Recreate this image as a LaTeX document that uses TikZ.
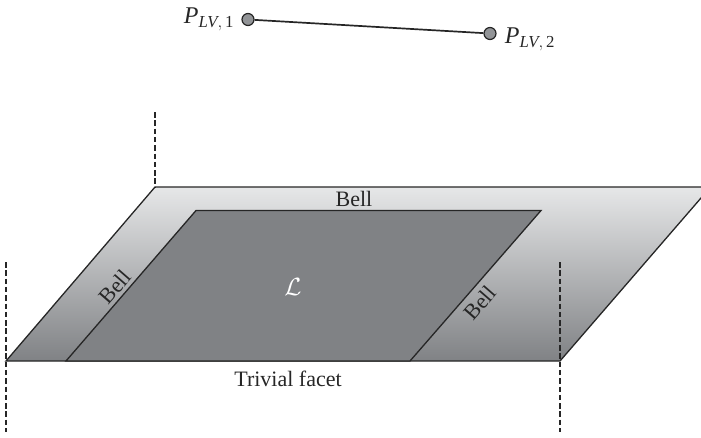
\documentclass[tikz,border=0pt]{standalone}
\usepackage{amsmath, amssymb}
\usepackage{fontspec}
\setmainfont{Liberation Serif}
\usetikzlibrary{arrows.meta, calc}
\definecolor{facetgray}{HTML}{808285}
\definecolor{belltop}{HTML}{E6E7E8}
\definecolor{pointgray}{HTML}{929497}
\newcommand{\lvpoint}[1]{$\textit{P}_{\textit{LV},\,\text{#1}}$}

\begin{document}
\begin{tikzpicture}[x=1pt, y=-1pt, font=\fontsize{22}{26}\selectfont,
    edge/.style={draw=black!85, line width=1.3pt},
    wall/.style={black!85, line width=1.5pt, dash pattern=on 5.5pt off 2.8pt},
    point/.style={circle, draw=black!85, fill=pointgray, line width=1.2pt, inner sep=0pt, minimum size=12pt},
    bell/.style={inner sep=0pt, text=black!85}]
  \useasboundingbox (0,0) rectangle (701,437);

  \coordinate (bl) at (6,361);
  \coordinate (br) at (560,361);
  \coordinate (tl) at (155,187);
  \coordinate (tr) at (710.5,187);
  \coordinate (ibl) at (66,361);
  \coordinate (ibr) at (410,361);
  \coordinate (itl) at (196,210.5);
  \coordinate (itr) at (541,210.5);

  \begin{scope}
    \clip (0,0) rectangle (701,437);
    \shade[top color=belltop, bottom color=facetgray] (bl) -- (tl) -- (tr) -- (br) -- cycle;
    \draw[edge] (bl) -- (tl) -- (tr) -- (br) -- cycle;
  \end{scope}
  \filldraw[edge, fill=facetgray] (ibl) -- (itl) -- (itr) -- (ibr) -- cycle;

  \coordinate (wall1) at (155,112);
  \coordinate (wall2) at (6,262);
  \coordinate (wall2b) at (6,432);
  \coordinate (wall3) at (560,262);
  \coordinate (wall3b) at (560,432);
  \draw[wall] (wall1) -- (tl);
  \draw[wall] (wall2) -- (wall2b);
  \draw[wall] (wall3) -- (wall3b);

  \node[point] (p1) at (248,19.5) {};
  \node[point] (p2) at (490,33.5) {};
  \draw[edge, line width=1.7pt] (p1) -- (p2);
  \node[text=black!85, font=\fontsize{24}{28}\selectfont] (p1label) at (209,19) {\lvpoint{1}};
  \node[text=black!85, font=\fontsize{24}{28}\selectfont] (p2label) at (530,39) {\lvpoint{2}};

  \node[bell] (belltop) at (354,199) {Bell};
  \node[bell, rotate=49] (bellleft) at (115,287) {Bell};
  \node[bell, rotate=49] (bellright) at (480,303) {Bell};
  \node[text=white, font=\fontsize{30}{34}\selectfont] (lattice) at (293,287) {$\mathcal{L}$};
  \node[text=black!85] (trivial) at (288,379) {Trivial facet};
\end{tikzpicture}
\end{document}
